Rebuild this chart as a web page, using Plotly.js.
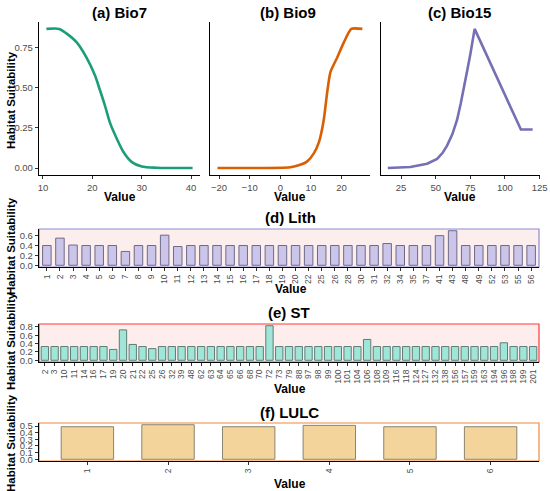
<!DOCTYPE html>
<html><head><meta charset="utf-8">
<script src="https://cdn.plot.ly/plotly-3.0.1.min.js"></script>
<style>body{margin:0;padding:0;background:#fff}#chart{width:550px;height:491px}</style>
</head><body><div id="chart"></div>
<script>
// ---- Data ----
const bio7X = [10.7, 13.3, 14.75, 16.8, 18.8, 20.5, 21.5, 22.6, 23.6, 25, 26.3, 28, 30, 33, 40.3];
const bio7Y = [0.868, 0.868, 0.84, 0.785, 0.69, 0.58, 0.49, 0.385, 0.28, 0.18, 0.10, 0.037, 0.01, 0.002, 0];

const bio9X = [-20.5, 3.3, 6.5, 8.7, 10.9, 12.6, 14.2, 15.3, 16.4, 18.6, 20.8, 23.2, 26.8];
const bio9Y = [0, 0.005, 0.02, 0.04, 0.09, 0.16, 0.30, 0.47, 0.60, 0.69, 0.785, 0.868, 0.868];

const bio15X = [15.4, 31.7, 43.8, 51, 55, 58.2, 62, 65.4, 68, 70.2, 73, 75, 78.1, 111.5, 120];
const bio15Y = [0, 0.006, 0.027, 0.057, 0.095, 0.14, 0.21, 0.30, 0.40, 0.49, 0.62, 0.71, 0.868, 0.24, 0.24];

const lithCats = ["1","2","3","4","5","6","7","8","9","10","11","12","13","14","15","16","17","18","19","20","22","25","26","28","30","31","32","34","35","37","41","43","48","49","52","53","55","56"];
const lithVals = [0.40,0.55,0.41,0.40,0.40,0.40,0.28,0.40,0.40,0.61,0.38,0.40,0.40,0.40,0.40,0.40,0.40,0.40,0.40,0.40,0.40,0.40,0.40,0.40,0.40,0.40,0.44,0.40,0.40,0.40,0.60,0.70,0.40,0.40,0.40,0.40,0.40,0.40];

const stCats = ["2","3","10","11","14","16","17","19","20","21","22","25","26","32","39","48","62","63","64","65","66","68","70","72","73","79","88","97","98","99","100","101","104","106","108","109","116","118","124","127","132","138","156","157","159","163","194","196","198","199","201"];
const stVals = [0.33,0.33,0.33,0.33,0.33,0.33,0.33,0.26,0.73,0.38,0.33,0.28,0.33,0.33,0.33,0.33,0.33,0.33,0.33,0.33,0.33,0.33,0.33,0.83,0.33,0.33,0.33,0.33,0.33,0.33,0.33,0.33,0.33,0.50,0.33,0.33,0.33,0.33,0.33,0.33,0.33,0.33,0.33,0.33,0.33,0.33,0.33,0.42,0.33,0.33,0.33];

const lulcCats = ["1","2","3","4","5","6"];
const lulcVals = [0.49,0.52,0.49,0.51,0.49,0.49];

// ---- Helpers ----
const W = 550, H = 491;
const px = v => v / W;
const py = v => 1 - v / H;
const FONT = "Liberation Sans, Arial, sans-serif";
const tickFont = {family: FONT, size: 9.5, color: "#4d4d4d"};

function xa(d0, d1, anchor, extra) {
  return Object.assign({
    domain: [px(d0), px(d1)], anchor: anchor,
    showline: true, linecolor: "#000", linewidth: 1.2,
    ticks: "outside", ticklen: 3, tickcolor: "#333", tickwidth: 1,
    tickfont: tickFont, showgrid: false, zeroline: false, fixedrange: true
  }, extra);
}
function ya(t0, t1, anchor, extra) {
  return Object.assign({
    domain: [py(t1), py(t0)], anchor: anchor,
    showline: true, linecolor: "#000", linewidth: 1.2,
    ticks: "outside", ticklen: 3, tickcolor: "#333", tickwidth: 1,
    tickfont: tickFont, showgrid: false, zeroline: false, fixedrange: true
  }, extra);
}

const topY = [-0.0434, 0.911];

const traces = [
  {x: bio7X, y: bio7Y, type: "scatter", mode: "lines", xaxis: "x", yaxis: "y",
   line: {color: "#1b9e77", width: 2.6, shape: "spline", smoothing: 0.8}},
  {x: bio9X, y: bio9Y, type: "scatter", mode: "lines", xaxis: "x2", yaxis: "y2",
   line: {color: "#d95f02", width: 2.6, shape: "spline", smoothing: 0.6}},
  {x: bio15X, y: bio15Y, type: "scatter", mode: "lines", xaxis: "x3", yaxis: "y3",
   line: {color: "#7570b3", width: 2.6}},
  {x: lithCats, y: lithVals, type: "bar", xaxis: "x4", yaxis: "y4", width: 0.65,
   marker: {color: "#cbc5ea", line: {color: "#6e6a87", width: 1}}},
  {x: stCats, y: stVals, type: "bar", xaxis: "x5", yaxis: "y5", width: 0.75,
   marker: {color: "#a0e6d8", line: {color: "#5f7d75", width: 1}}},
  {x: lulcCats, y: lulcVals, type: "bar", xaxis: "x6", yaxis: "y6", width: 0.65,
   marker: {color: "#f3d59b", line: {color: "#8c8270", width: 1}}}
];

const catAxis = (cats) => ({type: "category", range: [-0.6, cats.length - 0.4],
  tickmode: "array", tickvals: cats, ticktext: cats,
  tickangle: -90, tickfont: {family: FONT, size: 8.5, color: "#4d4d4d"}});

const layout = {
  width: W, height: H,
  margin: {l: 0, r: 0, t: 0, b: 0},
  paper_bgcolor: "#fff", plot_bgcolor: "rgba(0,0,0,0)",
  showlegend: false, bargap: 0,
  xaxis: xa(39, 200, "y", {range: [9.2, 41.8], tickvals: [10, 20, 30, 40]}),
  yaxis: ya(22, 175, "x", {range: topY, tickvals: [0, 0.25, 0.5, 0.75], ticktext: ["0.00", "0.25", "0.50", "0.75"]}),
  xaxis2: xa(210, 370, "y2", {range: [-22.95, 29.3], tickvals: [-20, -10, 0, 10, 20]}),
  yaxis2: ya(22, 175, "x2", {range: topY, showticklabels: false, ticks: ""}),
  xaxis3: xa(381, 540, "y3", {range: [10.5, 125.3], tickvals: [25, 50, 75, 100, 125]}),
  yaxis3: ya(22, 175, "x3", {range: topY, showticklabels: false, ticks: ""}),
  xaxis4: xa(39, 539, "y4", catAxis(lithCats)),
  yaxis4: ya(229, 267, "x4", {range: [-0.035, 0.735], tickvals: [0, 0.2, 0.4, 0.6], ticktext: ["0.0", "0.2", "0.4", "0.6"]}),
  xaxis5: xa(39, 539, "y5", catAxis(stCats)),
  yaxis5: ya(324, 362, "x5", {range: [-0.0415, 0.8715], tickvals: [0, 0.2, 0.4, 0.6, 0.8], ticktext: ["0.0", "0.2", "0.4", "0.6", "0.8"]}),
  xaxis6: xa(39, 539, "y6", catAxis(lulcCats)),
  yaxis6: ya(423, 461, "x6", {range: [-0.026, 0.546], tickvals: [0, 0.1, 0.2, 0.3, 0.4, 0.5], ticktext: ["0.0", "0.1", "0.2", "0.3", "0.4", "0.5"]}),
  shapes: [
    {type: "rect", xref: "x4 domain", yref: "y4 domain", x0: 0, x1: 1, y0: 0, y1: 1,
     fillcolor: "#fdeeee", line: {color: "#8c8cd0", width: 1.2}, layer: "below"},
    {type: "rect", xref: "x5 domain", yref: "y5 domain", x0: 0, x1: 1, y0: 0, y1: 1,
     fillcolor: "#fdeded", line: {color: "#ff3b3b", width: 1.2}, layer: "below"},
    {type: "rect", xref: "x6 domain", yref: "y6 domain", x0: 0, x1: 1, y0: 0, y1: 1,
     fillcolor: "#ffffff", line: {color: "#f28a3c", width: 1.2}, layer: "below"}
  ],
  annotations: []
};

function ann(text, x, y, size, angle) {
  layout.annotations.push({text: "<b>" + text + "</b>", xref: "paper", yref: "paper",
    x: px(x), y: py(y), xanchor: "center", yanchor: "middle", showarrow: false,
    textangle: angle || 0, font: {family: FONT, size: size, color: "#000"}});
}
ann("(a) Bio7", 119, 13, 15);
ann("(b) Bio9", 288, 13, 15);
ann("(c) Bio15", 460, 13, 15);
ann("(d) Lith", 290, 217, 15);
ann("(e) ST", 289, 312, 15);
ann("(f) LULC", 289, 412, 15);
ann("Value", 120, 197, 12);
ann("Value", 290, 197, 12);
ann("Value", 460, 197, 12);
ann("Value", 291, 289, 12);
ann("Value", 290, 389, 12);
ann("Value", 290, 484, 12);
ann("Habitat Suitability", 11, 100, 11.5, -90);
ann("Habitat Suitability", 11, 246, 11.5, -90);
ann("Habitat Suitability", 11, 341, 11.5, -90);
ann("Habitat Suitability", 11, 443, 11.5, -90);

Plotly.newPlot("chart", traces, layout, {staticPlot: true, displayModeBar: false});
</script></body></html>
